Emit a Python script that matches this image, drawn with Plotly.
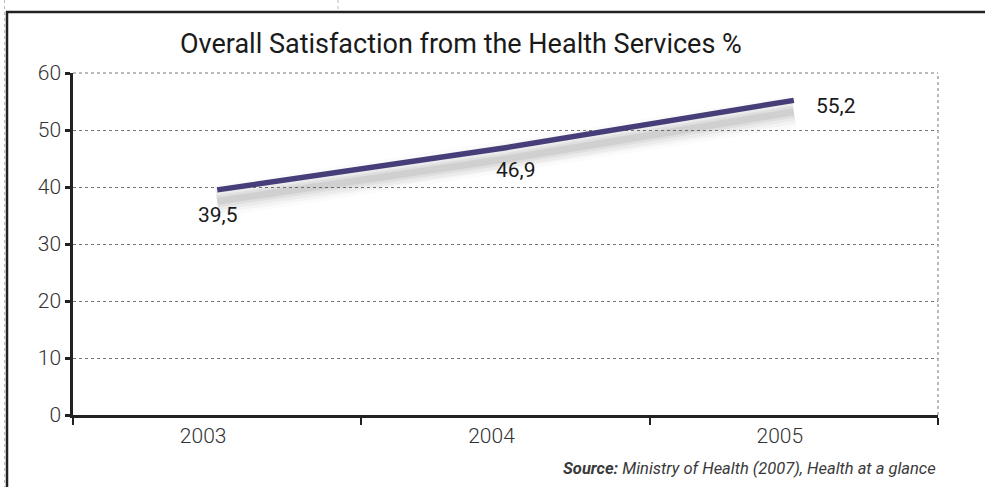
import plotly.graph_objects as go

# Survey results: overall satisfaction with health services (%)
years = ["2003", "2004", "2005"]
satisfaction = [39.5, 46.9, 55.2]
y_ticks = [0, 10, 20, 30, 40, 50, 60]

title_text = "Overall Satisfaction from the Health Services %"
source_text = "<b>Source:</b> Ministry of Health (2007), Health at a glance"

W, H = 986, 487
LINE_COLOR = "#463e79"
FONT = "Roboto, 'DejaVu Sans', sans-serif"

fig = go.Figure()

# soft drop shadow under the line: a stack of wide, faint grey strokes
# drawn on an axis whose range is nudged so they sit a few pixels lower
for w, op in [(32, 0.025), (25, 0.035), (18, 0.05), (12, 0.07), (7, 0.09)]:
    fig.add_trace(go.Scatter(
        x=years, y=satisfaction, mode="lines", yaxis="y",
        line=dict(color=f"rgba(70,70,70,{op})", width=w),
        hoverinfo="skip", showlegend=False,
    ))

# main series
fig.add_trace(go.Scatter(
    x=years, y=satisfaction, mode="lines", yaxis="y2",
    line=dict(color=LINE_COLOR, width=5.5),
    showlegend=False,
))

# value labels, written with a decimal comma
label_offsets = [(1, -25), (10, -22), (42, -6)]
for i, (v, (dx, dy)) in enumerate(zip(satisfaction, label_offsets)):
    fig.add_annotation(
        x=i, y=v, xref="x", yref="y2",
        text=f"{v:.1f}".replace(".", ","),
        showarrow=False, xshift=dx, yshift=dy,
        font=dict(family=FONT, size=21, color="#1a1a1a"),
    )

# title and source line
fig.add_annotation(
    x=0.449, y=1.0 + 29 / 342, xref="paper", yref="paper",
    text=title_text, showarrow=False,
    font=dict(family=FONT, size=27, color="#1a1a1a"),
    xanchor="center", yanchor="middle",
)
fig.add_annotation(
    x=1.0, y=-53 / 342, xref="paper", yref="paper",
    text=source_text, showarrow=False,
    font=dict(family=FONT, size=16.5, color="#3a3a3a", style="italic"),
    xanchor="right", yanchor="middle",
)

# frame: black border on top/left with a faint dotted guide outside it
px = lambda v: (v - 73) / 865
py = lambda v: (415 - v) / 342
shapes = [
    dict(type="line", xref="paper", yref="paper",
         x0=px(6), x1=px(985), y0=py(12), y1=py(12),
         line=dict(color="#222222", width=2.5)),
    dict(type="line", xref="paper", yref="paper",
         x0=px(7), x1=px(7), y0=py(11), y1=py(490),
         line=dict(color="#222222", width=2.5)),
    dict(type="line", xref="paper", yref="paper",
         x0=px(4.5), x1=px(4.5), y0=py(0), y1=py(490),
         line=dict(color="#bbbbbb", width=1, dash="dot")),
    dict(type="line", xref="paper", yref="paper",
         x0=px(338), x1=px(338), y0=py(0), y1=py(10),
         line=dict(color="#bbbbbb", width=1, dash="dot")),
    # dotted top and right edges of the plot area
    dict(type="line", xref="paper", yref="paper",
         x0=0, x1=1, y0=1, y1=1,
         line=dict(color="#777777", width=1, dash="dot")),
    dict(type="line", xref="paper", yref="paper",
         x0=1, x1=1, y0=0, y1=1,
         line=dict(color="#777777", width=1, dash="dot")),
]

fig.update_layout(
    width=W, height=H,
    margin=dict(l=73, r=48, t=73, b=72),
    paper_bgcolor="white", plot_bgcolor="white",
    shapes=shapes,
    xaxis=dict(
        type="category", range=[-0.5, 2.5],
        tickson="boundaries", ticks="outside", ticklen=7, tickwidth=2,
        tickcolor="#222222",
        showline=True, linecolor="#222222", linewidth=2.5,
        showgrid=False, zeroline=False,
        ticklabelshift=-14, ticklabelstandoff=0,
        tickfont=dict(family=FONT, size=21, color="#333333", weight=300),
    ),
    yaxis=dict(
        range=[2.0, 62.0], showgrid=False, zeroline=False,
        showticklabels=False, showline=False, ticks="",
    ),
    yaxis2=dict(
        overlaying="y", side="left", range=[0, 60],
        tickvals=y_ticks, ticks="outside", ticklen=5, tickwidth=2.5,
        tickcolor="#222222",
        showline=True, linecolor="#222222", linewidth=2.5,
        showgrid=True, gridcolor="#777777", gridwidth=1, griddash="dot",
        zeroline=False,
        tickfont=dict(family=FONT, size=21, color="#333333", weight=300),
    ),
    font=dict(family=FONT),
)

fig.write_html("out.html")
